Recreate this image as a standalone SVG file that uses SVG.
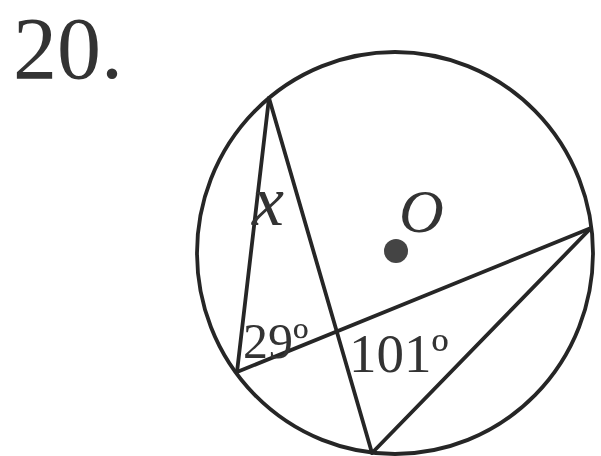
<svg xmlns="http://www.w3.org/2000/svg" width="601" height="456" viewBox="0 0 601 456">
<style>
.ln{stroke:#262626;stroke-width:3.8;fill:none;stroke-linecap:round}
.t{font-family:"Liberation Serif","Times New Roman",serif;fill:#333}
.i{font-style:italic}
</style>
<rect width="601" height="456" fill="#fff"/>
<text class="t" x="13" y="78" font-size="88">20.</text>
<g id="circle"><ellipse class="ln" cx="395" cy="253" rx="198" ry="201"/></g>
<g id="connectors">
<line class="ln" x1="269" y1="98" x2="237" y2="372"/>
<line class="ln" x1="269" y1="98" x2="372" y2="453"/>
<line class="ln" x1="237" y1="372" x2="591" y2="228"/>
<line class="ln" x1="372" y1="453" x2="591" y2="228"/>
</g>
<g id="center"><circle cx="396" cy="251" r="12" fill="#444"/><text class="t i" x="399" y="232" font-size="62">O</text></g>
<g id="labels">
<text class="t i" x="252" y="225" font-size="72">x</text>
<text class="t" x="243" y="358" font-size="50">29º</text>
<text class="t" x="349" y="372" font-size="55">101º</text>
</g>
</svg>
